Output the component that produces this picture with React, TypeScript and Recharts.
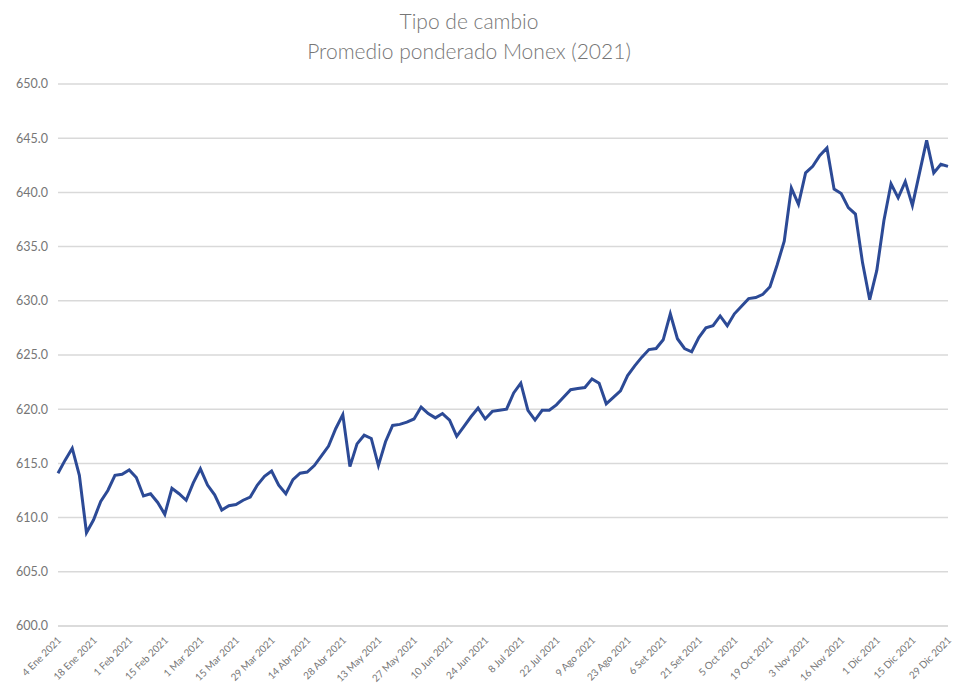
import { CartesianGrid, Line, LineChart, XAxis, YAxis } from "recharts";

const TICK_LABELS = [
  "4 Ene 2021", "18 Ene 2021", "1 Feb 2021", "15 Feb 2021", "1 Mar 2021", "15 Mar 2021",
  "29 Mar 2021", "14 Abr 2021", "28 Abr 2021", "13 May 2021", "27 May 2021", "10 Jun 2021",
  "24 Jun 2021", "8 Jul 2021", "22 Jul 2021", "9 Ago 2021", "23 Ago 2021", "6 Set 2021",
  "21 Set 2021", "5 Oct 2021", "19 Oct 2021", "3 Nov 2021", "16 Nov 2021", "1 Dic 2021",
  "15 Dic 2021", "29 Dic 2021",
];

// tipo de cambio, one value every 2 trading days
const RATE = [
  614.1, 615.3, 616.4, 613.9, 608.6, 609.8, 611.5, 612.5, 613.9, 614.0,
  614.4, 613.7, 612.0, 612.2, 611.4, 610.3, 612.7, 612.2, 611.6, 613.2,
  614.5, 613.0, 612.1, 610.7, 611.1, 611.2, 611.6, 611.9, 613.0, 613.8,
  614.3, 613.0, 612.2, 613.5, 614.1, 614.2, 614.8, 615.7, 616.6, 618.2,
  619.5, 614.7, 616.8, 617.6, 617.3, 614.8, 617.0, 618.5, 618.6, 618.8,
  619.1, 620.2, 619.6, 619.2, 619.6, 619.0, 617.5, 618.4, 619.3, 620.1,
  619.1, 619.8, 619.9, 620.0, 621.5, 622.4, 619.9, 619.0, 619.9, 619.9,
  620.4, 621.1, 621.8, 621.9, 622.0, 622.8, 622.4, 620.5, 621.1, 621.7,
  623.1, 624.0, 624.8, 625.5, 625.6, 626.4, 628.8, 626.5, 625.6, 625.3,
  626.6, 627.5, 627.7, 628.6, 627.7, 628.8, 629.5, 630.2, 630.3, 630.6,
  631.3, 633.3, 635.5, 640.4, 638.9, 641.8, 642.4, 643.4, 644.1, 640.3,
  639.9, 638.6, 638.0, 633.5, 630.1, 632.8, 637.4, 640.8, 639.5, 641.0,
  638.8, 641.8, 644.8, 641.8, 642.6, 642.4,
];

const Y_TICKS = [600, 605, 610, 615, 620, 625, 630, 635, 640, 645, 650];
const STEP = 5; // points between labelled ticks

const LINE = "#2c4a96";
const GRID = "#d9d9d9";
const TEXT = "#767676";
const FONT = "Lato, 'Open Sans', sans-serif";

const data = RATE.map((v, i) => ({ i, v }));
const xTicks = TICK_LABELS.map((_, k) => k * STEP);

function DateTick({ x, y, payload }: { x?: number; y?: number; payload?: { value: number } }) {
  const label = TICK_LABELS[Math.round((payload?.value ?? 0) / STEP)];
  return (
    <g transform={`translate(${(x ?? 0) - 1},${(y ?? 0) + 2})`}>
      <text x={0} y={0} dy="0.7em" textAnchor="end" transform="rotate(-45)" fill={TEXT} fontSize={10} fontFamily={FONT}>
        {label}
      </text>
    </g>
  );
}

export default function App() {
  return (
    <div style={{ position: "absolute", left: 0, top: 0, width: 955, height: 686, background: "#fff" }}>
      <div
        style={{
          position: "absolute",
          left: 0,
          top: 6,
          width: 938,
          textAlign: "center",
          color: TEXT,
          fontFamily: FONT,
          fontSize: 21,
          fontWeight: 300,
          lineHeight: "30px",
        }}
      >
        <div>Tipo de cambio</div>
        <div>Promedio ponderado Monex (2021)</div>
      </div>
      <LineChart width={955} height={686} data={data} margin={{ top: 84, right: 7, bottom: 0, left: 0 }}>
        <CartesianGrid stroke={GRID} strokeWidth={1.5} vertical={false} />
        <XAxis
          dataKey="i"
          type="number"
          domain={[0, RATE.length - 1]}
          ticks={xTicks}
          interval={0}
          height={60}
          tick={<DateTick />}
          tickLine={false}
          axisLine={{ stroke: GRID, strokeWidth: 1.5 }}
        />
        <YAxis
          domain={[600, 650]}
          ticks={Y_TICKS}
          tickFormatter={(v: number) => v.toFixed(1)}
          width={58}
          tick={{ fill: TEXT, fontSize: 12.5, fontFamily: FONT, dx: -2 }}
          tickLine={false}
          axisLine={false}
        />
        <Line
          type="linear"
          dataKey="v"
          stroke={LINE}
          strokeWidth={3}
          dot={false}
          isAnimationActive={false}
        />
      </LineChart>
    </div>
  );
}
